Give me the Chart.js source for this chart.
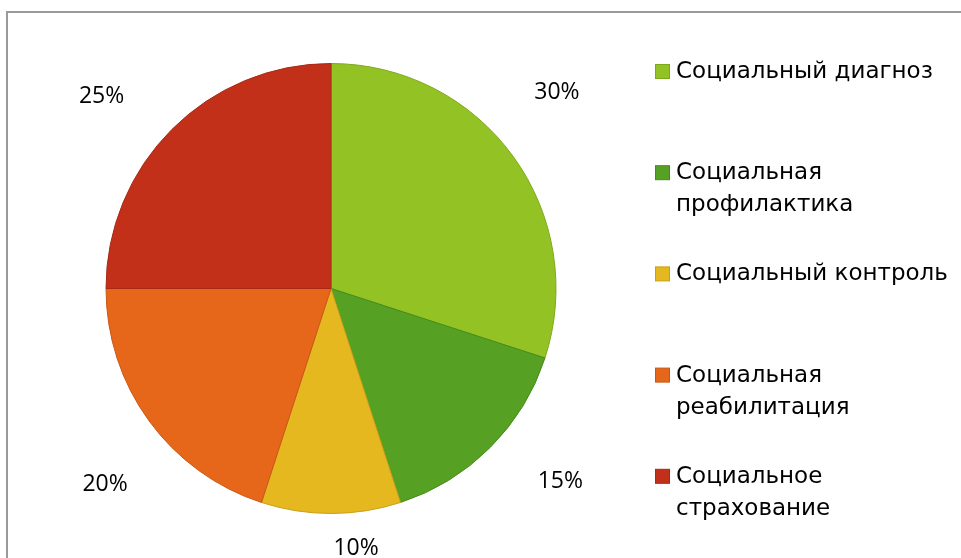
<!DOCTYPE html>
<html>
<head>
<meta charset="utf-8">
<script src="https://cdn.jsdelivr.net/npm/chart.js@4"></script>
<style>
html,body{margin:0;padding:0;background:#fff;overflow:hidden;}
</style>
</head>
<body>
<canvas id="grafico" width="961" height="558"></canvas>
<script>
// categories (legend text, split in lines like the original)
const categorias = [
["Социальный диагноз"],
["Социальная","профилактика"],
["Социальный контроль"],
["Социальная","реабилитация"],
["Социальное","страхование"]
];
const valores = [30, 15, 10, 20, 25];
const cores = ["#93c225","#56a123","#e5b820","#e7671a","#c3301a"];
const bordas = ["#7ea81c","#468a1a","#c99f18","#c95614","#a82814"];

// -------- moldura
const moldura = {
id:"moldura",
beforeDraw(chart){
const ctx = chart.ctx;
ctx.save();
ctx.strokeStyle = "#9a9a9a";
ctx.lineWidth = 2;
ctx.beginPath();
ctx.moveTo(7, chart.height + 5);
ctx.lineTo(7, 12);
ctx.lineTo(chart.width + 5, 12);
ctx.stroke();
ctx.restore();
}
};

// -------- rótulos de porcentagem
const rotulos = {
id:"rotulos",
afterDatasetsDraw(chart){
const ctx = chart.ctx;
const meta = chart.getDatasetMeta(0);
const total = valores.reduce((a,b)=>a+b,0);
ctx.save();
ctx.font = "23px 'Open Sans'";
ctx.fillStyle = "#000";
ctx.textAlign = "center";
ctx.textBaseline = "middle";
meta.data.forEach((arc,i) => {
const p = arc.getProps(["x","y","startAngle","endAngle","outerRadius"], true);
// rótulos ficam um pouco antes do meio da fatia, como no original
const meio = (p.startAngle + p.endAngle)/2 - 5*Math.PI/180;
const txt = Math.round(valores[i]/total*100) + "%";
const w = ctx.measureText(txt).width;
const h = 22;
const ux = Math.cos(meio), uy = Math.sin(meio);
const d = p.outerRadius + 50 + Math.abs(ux)*w/2 + Math.abs(uy)*h/2;
let x = p.x + ux*d;
let y = p.y + uy*d;
if(y > 548) y = 548;
ctx.fillText(txt, x, y);
});
ctx.restore();
}
};

// -------- legenda
const legenda = {
id:"legenda",
afterDraw(chart){
const ctx = chart.ctx;
ctx.save();
ctx.font = "23px 'DejaVu Sans'";
ctx.textBaseline = "middle";
categorias.forEach((linhas,i) => {
const y0 = 72 + i*101.2;
ctx.fillStyle = cores[i];
ctx.fillRect(655.5, y0-7.5, 14, 14);
ctx.strokeStyle = bordas[i];
ctx.lineWidth = 1;
ctx.strokeRect(655.5, y0-7.5, 14, 14);
ctx.fillStyle = "#000";
linhas.forEach((t,j) => {
ctx.fillText(t, 676, y0 + j*32);
});
});
ctx.restore();
}
};

new Chart(
document.getElementById("grafico"),
{
type:"pie",
data:{
labels:categorias,
datasets:[{
data:valores,
backgroundColor:cores,
borderColor:bordas,
borderWidth:1
}]
},
options:{
responsive:false,
animation:false,
layout:{padding:{left:105,right:404,top:63,bottom:44}},
plugins:{
legend:{display:false},
tooltip:{enabled:false}
}
},
plugins:[moldura,rotulos,legenda]
}
);
</script>
</body>
</html>
